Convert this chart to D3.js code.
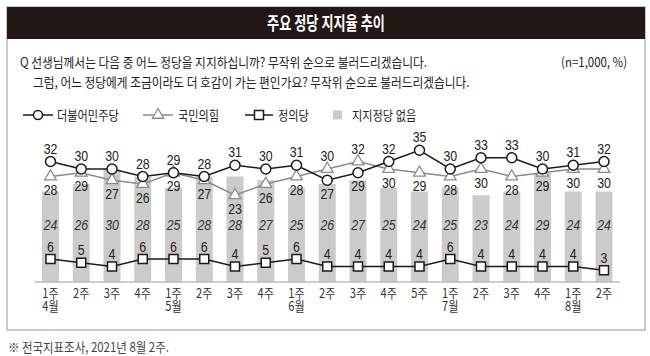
<!DOCTYPE html>
<html><head><meta charset="utf-8">
<script src="https://cdn.jsdelivr.net/npm/d3@7"></script>
<style>
html,body{margin:0;padding:0;background:#fff;}
svg{display:block;font-family:"Noto Sans CJK KR","Noto Sans",sans-serif;}
</style></head>
<body><svg id="chart" width="650" height="356"></svg>
<script>
const weeks = ["1주","2주","3주","4주","1주","2주","3주","4주","1주","2주","3주","4주","5주","1주","2주","3주","4주","1주","2주"];
const months = ["4월","","","","5월","","","","6월","","","","","7월","","","","8월",""];
const democratic = [32,30,30,28,29,28,31,30,31,27,29,32,35,30,33,33,30,31,32];
const peoplePower = [28,29,27,26,29,27,23,26,28,30,32,30,29,28,30,28,29,30,30];
const justice = [6,5,4,6,6,6,4,5,6,4,4,4,4,6,4,4,4,4,3];
const noParty = [24,26,30,28,25,28,28,27,25,26,27,25,24,25,23,24,29,24,24];
const legendNames = ["더불어민주당","국민의힘","정의당","지지정당 없음"];
const titleText = "주요 정당 지지율 추이";
const question1 = "Q 선생님께서는 다음 중 어느 정당을 지지하십니까? 무작위 순으로 불러드리겠습니다.";
const question2 = "그럼, 어느 정당에게 조금이라도 더 호감이 가는 편인가요? 무작위 순으로 불러드리겠습니다.";
const sampleNote = "(n=1,000, %)";
const footNote = "※ 전국지표조사, 2021년 8월 2주.";

const svg = d3.select("#chart");
const dark = "#231815", gray = "#8a8a8a", barFill = "#cbcbcb";
const numFont = "'Liberation Sans','Noto Sans',sans-serif";

function condense(sel, k){
  sel.each(function(){
    const w = this.getComputedTextLength();
    this.setAttribute("textLength", (w*k).toFixed(1));
    this.setAttribute("lengthAdjust","spacingAndGlyphs");
  });
  return sel;
}

// frame + header
svg.append("rect").attr("x",7).attr("y",7).attr("width",638).attr("height",323)
  .attr("fill","#fff").attr("stroke","#b8b8b8").attr("stroke-width",1.5);
svg.append("rect").attr("x",7).attr("y",7).attr("width",638).attr("height",32).attr("fill",dark);
condense(svg.append("text").attr("x",326).attr("y",29.5).attr("text-anchor","middle")
  .attr("fill","#fff").attr("font-size",18).attr("font-weight","bold").text(titleText), 0.73);

// question text
condense(svg.append("text").attr("x",20).attr("y",66.5).attr("font-size",13).attr("fill","#222").text(question1),0.9);
condense(svg.append("text").attr("x",33).attr("y",86.5).attr("font-size",13).attr("fill","#222").text(question2),0.9);
condense(svg.append("text").attr("x",627).attr("y",66.5).attr("text-anchor","end").attr("font-size",13).attr("fill","#222").text(sampleNote),0.88);

// scales
const idx = d3.range(weeks.length);
const x = d3.scalePoint().domain(idx).range([50.5,604]);
const y = d3.scaleLinear().domain([0,40]).range([281.5,131.5]);

// legend
const lg = svg.append("g");
const legY = 115;
function legendLine(x0,x1,color){ lg.append("line").attr("x1",x0).attr("x2",x1).attr("y1",legY).attr("y2",legY).attr("stroke",color).attr("stroke-width",1.5); }
legendLine(23,53,dark);
lg.append("circle").attr("cx",38).attr("cy",legY).attr("r",4.5).attr("fill","#fff").attr("stroke",dark).attr("stroke-width",1.5);
legendLine(143,173,gray);
lg.append("path").attr("d",d3.symbol(d3.symbolTriangle,55)()).attr("transform",`translate(158,${legY})`).attr("fill","#fff").attr("stroke",gray).attr("stroke-width",1.3);
legendLine(245,273,dark);
lg.append("rect").attr("x",254.5).attr("y",legY-4.5).attr("width",9).attr("height",9).attr("fill","#fff").attr("stroke",dark).attr("stroke-width",1.5);
lg.append("rect").attr("x",333).attr("y",legY-4.5).attr("width",9).attr("height",9).attr("fill",barFill);
[[57,0],[178,1],[278,2],[352,3]].forEach(([lx,i])=>{
  condense(lg.append("text").attr("x",lx).attr("y",legY+4.5).attr("font-size",13).attr("fill","#222").text(legendNames[i]),0.86);
});

// bars
const barW = 17;
svg.append("g").selectAll("rect").data(idx).join("rect")
  .attr("x",i=>x(i)-barW/2).attr("width",barW)
  .attr("y",i=>y(noParty[i])).attr("height",i=>y(0)-y(noParty[i]))
  .attr("fill",barFill);
condense(svg.append("g").selectAll("text").data(idx).join("text")
  .attr("x",i=>x(i)).attr("y",229.5).attr("text-anchor","middle")
  .attr("font-family",numFont).attr("font-size",14).attr("font-style","italic").attr("fill","#333")
  .text(i=>noParty[i]),0.88);

// axis
const axisY = 282;
svg.append("line").attr("x1",35).attr("x2",620).attr("y1",axisY).attr("y2",axisY).attr("stroke","#9a9a9a").attr("stroke-width",1);
const xl = svg.append("g").selectAll("text").data(idx).join("text")
  .attr("x",i=>x(i)).attr("y",297.5).attr("text-anchor","middle").attr("font-size",13).attr("fill","#333");
xl.append("tspan").attr("x",i=>x(i)).attr("y",297.5).text(i=>weeks[i]);
xl.filter(i=>months[i]).append("tspan").attr("x",i=>x(i)).attr("y",310.5).text(i=>months[i]);
xl.selectAll("tspan").each(function(){
  const w = this.getComputedTextLength();
  this.setAttribute("textLength",(w*0.85).toFixed(1));
  this.setAttribute("lengthAdjust","spacingAndGlyphs");
});

// lines
const lineGen = arr => d3.line().x(i=>x(i)).y(i=>y(arr[i]))(idx);
svg.append("path").attr("d",lineGen(justice)).attr("fill","none").attr("stroke",dark).attr("stroke-width",1.5);
svg.append("path").attr("d",lineGen(peoplePower)).attr("fill","none").attr("stroke",gray).attr("stroke-width",1.5);
svg.append("path").attr("d",lineGen(democratic)).attr("fill","none").attr("stroke",dark).attr("stroke-width",1.5);

// markers
svg.append("g").selectAll("rect").data(idx).join("rect")
  .attr("x",i=>x(i)-4.5).attr("y",i=>y(justice[i])-4.5).attr("width",9).attr("height",9)
  .attr("fill","#fff").attr("stroke",dark).attr("stroke-width",1.5);
svg.append("g").selectAll("path").data(idx).join("path")
  .attr("d",d3.symbol(d3.symbolTriangle,60)())
  .attr("transform",i=>`translate(${x(i)},${y(peoplePower[i])})`)
  .attr("fill","#fff").attr("stroke",gray).attr("stroke-width",1.3);
svg.append("g").selectAll("circle").data(idx).join("circle")
  .attr("cx",i=>x(i)).attr("cy",i=>y(democratic[i])).attr("r",5)
  .attr("fill","#fff").attr("stroke",dark).attr("stroke-width",1.5);

// value labels
const lab = svg.append("g").attr("font-family",numFont).attr("font-size",14).attr("fill","#222").attr("text-anchor","middle");
idx.forEach(i=>{
  const dUp = democratic[i] >= peoplePower[i];
  condense(lab.append("text").attr("x",x(i)).attr("y",y(democratic[i]) + (dUp ? -8 : 18.5)).text(democratic[i]),0.88);
  condense(lab.append("text").attr("x",x(i)).attr("y",y(peoplePower[i]) + (dUp ? 18.5 : -8)).text(peoplePower[i]),0.88);
  condense(lab.append("text").attr("x",x(i)).attr("y",y(justice[i]) - 7.5).text(justice[i]),0.88);
});

// footnote
condense(svg.append("text").attr("x",8).attr("y",351.5).attr("font-size",13).attr("fill","#444").text(footNote),0.88);
</script></body></html>
